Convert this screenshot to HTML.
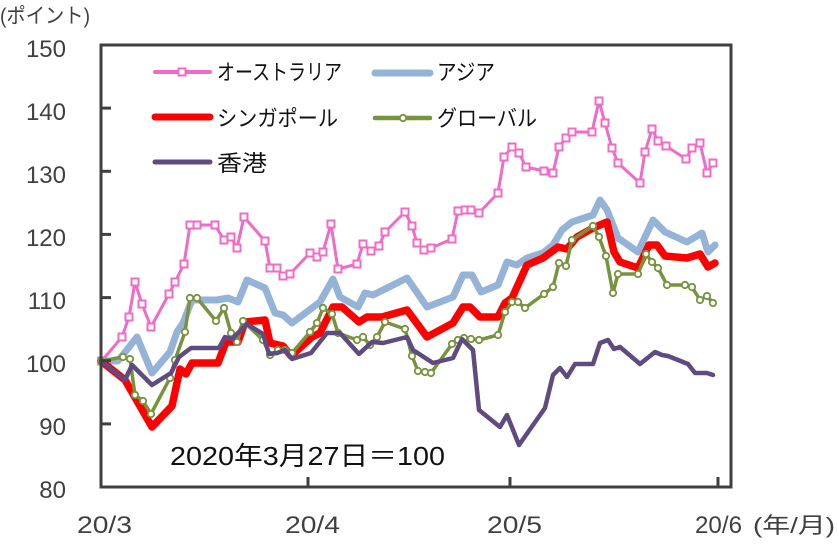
<!DOCTYPE html>
<html><head><meta charset="utf-8"><style>
html,body{margin:0;padding:0;background:#fff;}
svg{display:block;}
text{font-family:"Liberation Sans","Noto Sans CJK JP",sans-serif;}
</style></head><body>
<svg width="838" height="544" viewBox="0 0 838 544" xmlns="http://www.w3.org/2000/svg">
<defs>
<marker id="sq" markerUnits="userSpaceOnUse" markerWidth="12" markerHeight="12" refX="6" refY="6" overflow="visible"><rect x="2.5" y="2.5" width="7" height="7" fill="#fff" stroke="#F06BC8" stroke-width="2"/></marker>
<marker id="ci" markerUnits="userSpaceOnUse" markerWidth="12" markerHeight="12" refX="6" refY="6" overflow="visible"><circle cx="6" cy="6" r="3.2" fill="#fff" stroke="#77933C" stroke-width="1.8"/></marker>
</defs>

<!-- Y labels -->
<g font-size="24" fill="#404040" text-anchor="end">
<text x="66" y="57">150</text>
<text x="66" y="120">140</text>
<text x="66" y="183">130</text>
<text x="66" y="246">120</text>
<text x="66" y="309">110</text>
<text x="66" y="372">100</text>
<text x="66" y="435">90</text>
<text x="66" y="498">80</text>
</g>
<text x="0" y="23" font-size="21" fill="#404040" textLength="90" lengthAdjust="spacingAndGlyphs">(ポイント)</text>

<!-- X labels -->
<g font-size="24" fill="#404040">
<text x="77" y="533" textLength="55" lengthAdjust="spacingAndGlyphs">20/3</text>
<text x="285" y="533" textLength="55" lengthAdjust="spacingAndGlyphs">20/4</text>
<text x="487" y="533" textLength="55" lengthAdjust="spacingAndGlyphs">20/5</text>
<text x="695" y="533" textLength="47" lengthAdjust="spacingAndGlyphs">20/6</text>
<text x="753" y="533" font-size="22" textLength="82" lengthAdjust="spacingAndGlyphs">(年/月)</text>
</g>

<!-- Series -->
<polyline fill="none" stroke="#F06BC8" stroke-width="3" stroke-linejoin="round" marker-start="url(#sq)" marker-mid="url(#sq)" marker-end="url(#sq)" points="101.7,361 122,337 129,317 135,282 142,304 151,327 169,294 175,282 184,264 190,225 197,225 215,225 224,240 231,237 237,248 244,217 265,241 270,268 277,268 283,276 290,274 310,253 317,257 323,252 331,224 338,269 357,264 363,244 371,251 379,246 385,232 405,212 412,226 417,243 424,250 431,248 452,239 458,211 465,210 471,210 479,213 498,193 504,157 512,147 519,153 526,167 544,171 553,173 559,147 566,138 572,132 592,132 599,101 605,123 612,148 618,163 640,183 645,152 652,129 658,141 666,146 686,159 692,148 700,143 707,173 713,163"/>

<polyline fill="none" stroke="#95B3D7" stroke-width="7" stroke-linejoin="round" stroke-linecap="round" points="101,361 118,361 137,337 152,373 170,352 177,332 183,323 192,300 202,300 217,300 228,298 238,302 247,280 265,288 275,313 283,315 292,323 300,317 320,302 333,279 340,297 358,307 365,293 373,295 407,278 427,307 453,297 463,275 472,275 481,292 498,285 507,262 517,265 527,258 543,253 553,245 562,230 572,222 593,215 600,200 607,210 618,238 638,252 653,220 665,232 687,242 702,233 708,252 715,245"/>

<polyline fill="none" stroke="#FF0000" stroke-width="7.5" stroke-linejoin="round" stroke-linecap="round" points="101,361 125,380 152,427 172,406 180,369 186,374 192,363 218,363 226,342 238,342 245,322 265,320 270,343 283,346 291,356 312,337 320,333 333,307 342,307 359,322 367,317 382,317 407,310 427,337 453,323 463,307 470,307 480,317 498,317 505,303 512,298 527,265 543,258 558,247 567,249 577,237 593,228 607,222 614,252 620,262 638,268 649,245 657,245 665,256 687,258 700,254 708,267 715,263"/>

<polyline fill="none" stroke="#77933C" stroke-width="3.5" stroke-linejoin="round" marker-start="url(#ci)" marker-mid="url(#ci)" marker-end="url(#ci)" points="101,361 123,357 130,359 135,395 143,401 151,414 170,378 175,360 185,332 190,298 197,298 216,321 224,308 231,333 237,342 243,321 263,340 270,355 278,350 285,350 292,353 310,332 317,323 323,308 332,314 338,333 357,340 363,337 370,345 377,337 385,322 405,329 412,356 418,371 425,372 431,373 452,344 458,340 464,338 471,339 479,340 498,335 505,312 512,302 518,302 525,308 544,294 553,287 559,263 566,266 572,240 593,226 599,237 606,256 613,293 618,274 638,274 646,254 652,262 658,268 667,285 685,285 692,287 700,300 707,296 713,303"/>

<polyline fill="none" stroke="#5F4B7F" stroke-width="4.5" stroke-linejoin="round" stroke-linecap="round" points="101,361 125,380 132,365 152,385 171,373 179,357 191,348 219,348 225,337 232,339 247,324 263,334 269,354 277,353 285,350 292,359 311,353 327,333 340,333 359,354 372,342 383,343 407,337 413,350 433,363 453,358 462,339 473,350 479,410 500,427 507,415 519,445 545,408 553,375 560,368 567,377 575,364 593,364 600,343 608,340 614,349 620,347 640,364 655,352 662,355 668,356 688,364 695,373 707,373 713,375"/>

<!-- Frame & ticks -->
<rect x="101" y="45" width="630" height="442" fill="none" stroke="#404040" stroke-width="3"/>
<g stroke="#404040" stroke-width="3">
<line x1="101" y1="108.1" x2="111" y2="108.1"/>
<line x1="101" y1="171.3" x2="111" y2="171.3"/>
<line x1="101" y1="234.4" x2="111" y2="234.4"/>
<line x1="101" y1="297.6" x2="111" y2="297.6"/>
<line x1="101" y1="360.7" x2="111" y2="360.7"/>
<line x1="101" y1="423.9" x2="111" y2="423.9"/>
<line x1="308" y1="487" x2="308" y2="477"/>
<line x1="510" y1="487" x2="510" y2="477"/>
<line x1="718" y1="487" x2="718" y2="477"/>
</g>

<!-- Legend -->
<line x1="155" y1="72" x2="210" y2="72" stroke="#F06BC8" stroke-width="4" stroke-linecap="round"/>
<rect x="178.5" y="68.5" width="7" height="7" fill="#fff" stroke="#F06BC8" stroke-width="2"/>
<line x1="155" y1="117" x2="210" y2="117" stroke="#FF0000" stroke-width="7" stroke-linecap="round"/>
<line x1="155" y1="162" x2="210" y2="162" stroke="#5F4B7F" stroke-width="5" stroke-linecap="round"/>
<line x1="375" y1="73" x2="430" y2="73" stroke="#95B3D7" stroke-width="7" stroke-linecap="round"/>
<line x1="375" y1="118" x2="430" y2="118" stroke="#77933C" stroke-width="4.5" stroke-linecap="round"/>
<circle cx="403" cy="118" r="3.2" fill="#fff" stroke="#77933C" stroke-width="1.8"/>

<g font-size="22" fill="#111">
<text x="217" y="80" textLength="125" lengthAdjust="spacingAndGlyphs">オーストラリア</text>
<text x="217" y="126" textLength="121" lengthAdjust="spacingAndGlyphs">シンガポール</text>
<text x="217" y="171" textLength="50" lengthAdjust="spacingAndGlyphs">香港</text>
<text x="437" y="80" textLength="58" lengthAdjust="spacingAndGlyphs">アジア</text>
<text x="437" y="126" textLength="100" lengthAdjust="spacingAndGlyphs">グローバル</text>
</g>

<!-- Annotation -->
<text x="170" y="465" font-size="26" fill="#111" textLength="275" lengthAdjust="spacingAndGlyphs">2020年3月27日＝100</text>
</svg>
</body></html>
